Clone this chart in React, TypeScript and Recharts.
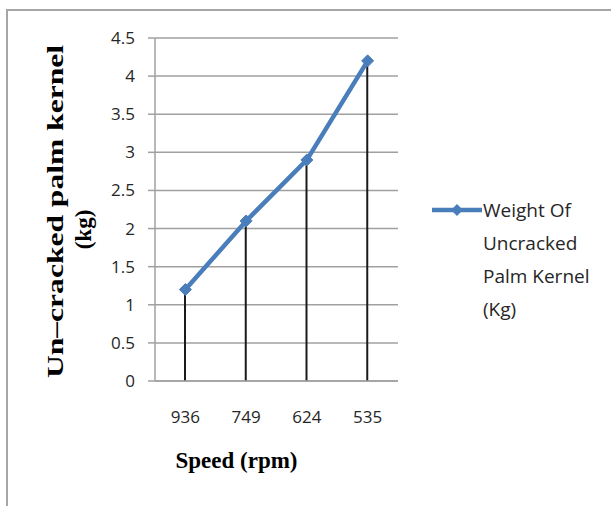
import React from 'react';
import { ComposedChart, Bar, Line, XAxis, YAxis, CartesianGrid, Legend } from 'recharts';

const speeds = ['936', '749', '624', '535'];
const weights = [1.2, 2.1, 2.9, 4.2];
const yTicks = [0, 0.5, 1, 1.5, 2, 2.5, 3, 3.5, 4, 4.5];
const seriesName = 'Weight Of Uncracked Palm Kernel (Kg)';
const legendLines = ['Weight Of', 'Uncracked', 'Palm Kernel', '(Kg)'];
const yTitleLines = ['Un\u2013cracked palm kernel', '(kg)'];
const xTitle = 'Speed (rpm)';

const data = speeds.map((s, i) => ({ speed: s, weight: weights[i] }));

const BLUE = '#4A7EBB';
const GRID = '#a0a0a0';
const TICK_FONT = { fontFamily: '"Open Sans", sans-serif', fontSize: 17, fill: '#262626' };

const Diamond = (props: any) => {
  const { cx, cy } = props;
  if (cx == null || cy == null) return null;
  const r = 6;
  return (
    <polygon
      points={`${cx},${cy - r} ${cx + r},${cy} ${cx},${cy + r} ${cx - r},${cy}`}
      fill={BLUE}
      stroke={BLUE}
    />
  );
};

const YTitle = (props: any) => {
  const { viewBox } = props;
  const cy = viewBox.y + viewBox.height / 2;
  const x1 = viewBox.x + 63;
  const x2 = viewBox.x + 91;
  const style = { fontFamily: '"Liberation Serif", "Times New Roman", serif', fontWeight: 'bold', fontSize: 23, fill: '#000' };
  return (
    <g>
      <text x={x1} y={cy + 2} textAnchor="middle" transform={`rotate(-90, ${x1}, ${cy + 2})`} style={style}
        textLength={333} lengthAdjust="spacingAndGlyphs">
        {yTitleLines[0]}
      </text>
      <text x={x2} y={cy + 20} textAnchor="middle" transform={`rotate(-90, ${x2}, ${cy + 20})`} style={style}>
        {yTitleLines[1]}
      </text>
    </g>
  );
};

const XTitle = (props: any) => {
  const { viewBox } = props;
  return (
    <text x={viewBox.x + viewBox.width / 2 - 40} y={viewBox.y + 87} textAnchor="middle"
      style={{ fontFamily: '"Liberation Serif", "Times New Roman", serif', fontWeight: 'bold', fontSize: 23, fill: '#000' }}>
      {xTitle}
    </text>
  );
};

const LegendContent = () => (
  <div style={{ display: 'flex', alignItems: 'flex-start', fontFamily: '"Open Sans", sans-serif', fontSize: 19, color: '#262626' }}>
    <svg width={51} height={33} style={{ flex: 'none' }}>
      <line x1={0} y1={16} x2={50} y2={16} stroke={BLUE} strokeWidth={4.5} />
      <polygon points="25,10 31,16 25,22 19,16" fill={BLUE} />
    </svg>
    <div style={{ lineHeight: '33px', whiteSpace: 'nowrap' }}>
      {legendLines.map((l) => (
        <div key={l}>{l}</div>
      ))}
    </div>
  </div>
);

export default function App() {
  return (
    <div style={{ position: 'fixed', left: 0, top: 0, width: 611, height: 506, overflow: 'hidden', background: '#fff' }}>
      <div style={{ position: 'absolute', left: 6, top: 9, width: 700, height: 600, borderLeft: '2px solid #a6a6a6', borderTop: '2px solid #a6a6a6' }} />
      <div style={{ position: 'absolute', left: 0, top: 0 }}>
        <ComposedChart width={611} height={506} data={data} margin={{ top: 38, right: 213, bottom: 55, left: 0 }}>
          <CartesianGrid vertical={false} stroke={GRID} strokeWidth={1.5} />
          <XAxis
            dataKey="speed"
            height={70}
            stroke={GRID}
            strokeWidth={1.5}
            tickLine={false}
            tickSize={0}
            tickMargin={30}
            tick={TICK_FONT}
            interval={0}
            label={{ content: <XTitle /> }}
          />
          <YAxis
            width={155}
            domain={[0, 4.5]}
            ticks={yTicks}
            stroke={GRID}
            strokeWidth={1.5}
            tickSize={7}
            tickMargin={13}
            tick={TICK_FONT}
            label={{ content: <YTitle /> }}
          />
          <Bar dataKey="weight" barSize={2} fill="#1a1a1a" isAnimationActive={false} legendType="none" />
          <Line
            dataKey="weight"
            name={seriesName}
            stroke={BLUE}
            strokeWidth={4.5}
            dot={<Diamond />}
            activeDot={false}
            isAnimationActive={false}
          />
          <Legend
            layout="horizontal"
            verticalAlign="middle"
            align="center"
            content={<LegendContent />}
            wrapperStyle={{ position: 'absolute', left: 432, top: 194, width: 175 }}
          />
        </ComposedChart>
      </div>
    </div>
  );
}
